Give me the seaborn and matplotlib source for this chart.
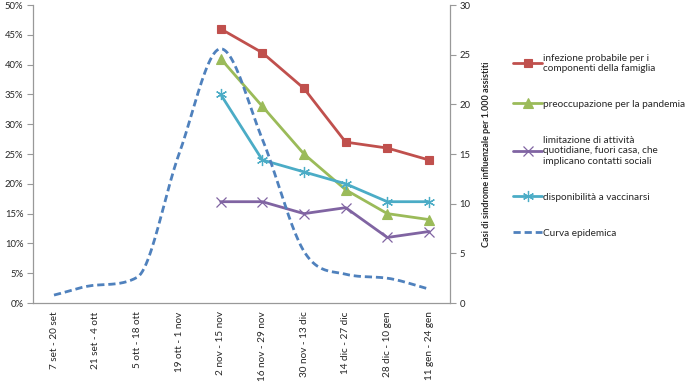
import matplotlib
matplotlib.use('Agg')
import matplotlib.pyplot as plt
import seaborn as sns
import numpy as np
import pandas as pd
from matplotlib.ticker import FuncFormatter, FixedLocator

periodi = ['7 set - 20 set', '21 set - 4 ott', '5 ott - 18 ott', '19 ott - 1 nov',
           '2 nov - 15 nov', '16 nov - 29 nov', '30 nov - 13 dic', '14 dic - 27 dic',
           '28 dic - 10 gen', '11 gen - 24 gen']

# quote (%) dal 2 nov in poi
infezione = [46, 42, 36, 27, 26, 24]
preoccupazione = [41, 33, 25, 19, 15, 14]
limitazione = [17, 17, 15, 16, 11, 12]
vaccinarsi = [35, 24, 22, 20, 17, 17]

# casi per 1.000 assistiti
curva = [0.8, 1.8, 2.6, 15.0, 25.6, 16.5, 5.2, 2.9, 2.5, 1.4]

sns.set_style('white')
plt.rcParams['font.family'] = ['Lato', 'DejaVu Sans']

fig = plt.figure(figsize=(6.91, 3.87), dpi=100)
ax = fig.add_axes([0.048, 0.217, 0.603, 0.770])
ax2 = ax.twinx()

idx = list(range(len(periodi)))
sub = idx[4:]

serie = [
    ('infezione probabile per i\ncomponenti della famiglia', infezione, '#C0504D', 's', 6),
    ('preoccupazione per la pandemia', preoccupazione, '#9BBB59', '^', 6.5),
    ('limitazione di attività\nquotidiane, fuori casa, che\nimplicano contatti sociali', limitazione, '#8064A2', 'x', 7),
    ('disponibilità a vaccinarsi', vaccinarsi, '#4BACC6', (6, 2, 0), 8),
]

for nome, valori, col, mk, ms in serie:
    filled = mk in ('s', '^')
    sns.lineplot(x=sub, y=valori, ax=ax, color=col, linewidth=2, marker=mk,
                 markersize=ms, markeredgecolor=col, markerfacecolor=col,
                 markeredgewidth=0.8 if filled else 0.9,
                 label=nome, legend=False)

# curva epidemica smussata (Fritsch-Carlson, simile alla linea smussata di Excel)
p = np.array(curva)
d = np.diff(p)
m = np.zeros_like(p)
m[0], m[-1] = d[0], d[-1]
for i in range(1, len(p) - 1):
    m[i] = (d[i - 1] + d[i]) / 2 if d[i - 1] * d[i] > 0 else 0.0
for i in range(len(d)):
    if d[i] == 0:
        m[i] = m[i + 1] = 0.0
        continue
    a, b = m[i] / d[i], m[i + 1] / d[i]
    if a * a + b * b > 9:
        tau = 3 / np.sqrt(a * a + b * b)
        m[i], m[i + 1] = tau * a * d[i], tau * b * d[i]
xs, ys = [], []
t = np.linspace(0, 1, 24, endpoint=False)
h00 = 2 * t ** 3 - 3 * t ** 2 + 1
h10 = t ** 3 - 2 * t ** 2 + t
h01 = -2 * t ** 3 + 3 * t ** 2
h11 = t ** 3 - t ** 2
for i in range(len(p) - 1):
    xs.extend(i + t)
    ys.extend(h00 * p[i] + h10 * m[i] + h01 * p[i + 1] + h11 * m[i + 1])
xs.append(len(p) - 1)
ys.append(p[-1])
df_curva = pd.DataFrame({'x': xs, 'y': ys})
sns.lineplot(data=df_curva, x='x', y='y', ax=ax2, color='#4F81BD', linewidth=2,
             label='Curva epidemica', legend=False, sort=False)
ax2.lines[-1].set_dashes((2.6, 1.4))

ax.set_xlim(-0.5, 9.5)
ax.set_ylim(0, 50)
ax2.set_ylim(0, 30)

ax.set_yticks(np.arange(0, 51, 5))
ax.yaxis.set_major_formatter(FuncFormatter(lambda v, pos: f'{v:.0f}%'))
ax2.set_yticks(np.arange(0, 31, 5))

ax.set_xticks(idx)
ax.set_xticklabels(periodi, rotation=90, fontsize=7.2)
ax.xaxis.set_minor_locator(FixedLocator(np.arange(-0.5, 10, 1)))
ax.tick_params(axis='x', which='major', length=0, pad=6)
ax.tick_params(axis='x', which='minor', length=4, color='#999999', width=0.8, direction='out')
ax.tick_params(axis='y', length=4, color='#999999', width=0.8, direction='out',
               left=True, labelsize=6.8, pad=3)
ax2.tick_params(axis='y', length=4, color='#999999', width=0.8, direction='out',
                right=True, labelsize=6.8, pad=3)

ax.set_xlabel('')
ax.set_ylabel('')
ax2.set_xlabel('')
ax2.set_ylabel('Casi di sindrome influenzale per 1.000 assistiti', fontsize=6.5,
               fontweight='bold', labelpad=8)

for a in (ax, ax2):
    a.spines['top'].set_visible(False)
    for s in ('left', 'right', 'bottom'):
        a.spines[s].set_color('#999999')
        a.spines[s].set_linewidth(0.9)
ax.spines['right'].set_visible(False)
ax2.spines['left'].set_visible(False)
ax2.spines['bottom'].set_visible(False)

handles = ax.lines[:4] + [ax2.lines[-1]]
labels = [s[0] for s in serie] + ['Curva epidemica']
fig.legend(handles, labels, loc='upper left', bbox_to_anchor=(0.737, 0.872),
           frameon=False, fontsize=7.2, handlelength=2.9, handletextpad=0.1,
           labelspacing=2.7, borderaxespad=0)

fig.savefig('out.png', dpi=100)
